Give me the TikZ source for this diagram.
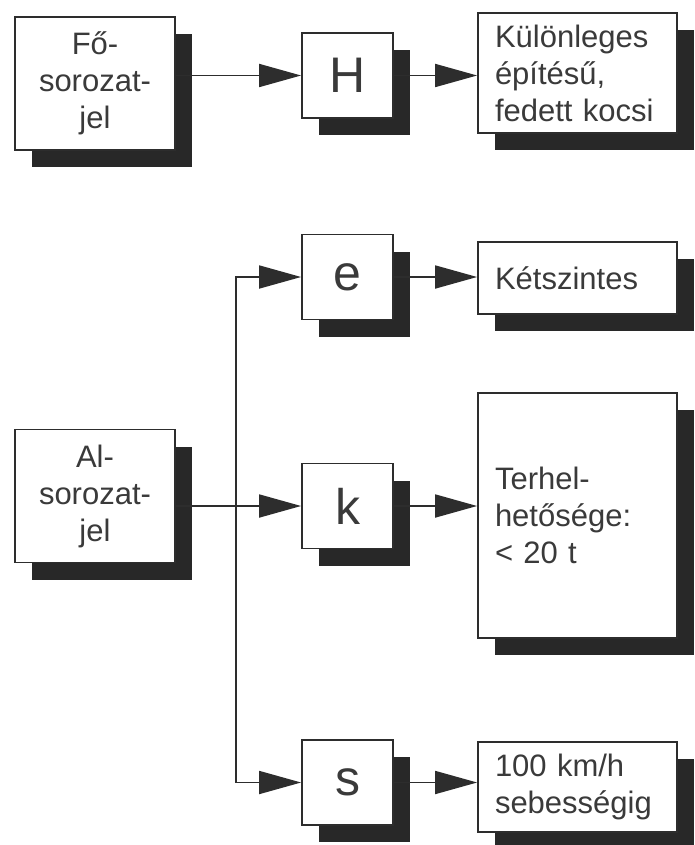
\documentclass[tikz,border=0pt]{standalone}
\usepackage{fontspec}
\setmainfont{Liberation Sans}
\usepackage{tikz}
\usetikzlibrary{arrows.meta,shadows}
\definecolor{linec}{RGB}{45,45,45}
\definecolor{textc}{RGB}{58,58,58}
\definecolor{shadc}{RGB}{40,40,40}
\tikzset{
  sbox/.style={draw=linec,line width=1.8pt,fill=white,text=textc,inner sep=0pt,
    drop shadow={shadow xshift=17pt,shadow yshift=-17pt,fill=shadc,opacity=1}},
  lbox/.style={sbox,minimum width=160pt,minimum height=133pt,align=center,
    font=\fontsize{31}{37}\selectfont},
  cbox/.style={sbox,minimum width=91pt,minimum height=85pt,
    font=\fontsize{50}{56}\selectfont},
  rbox/.style={sbox,minimum width=199pt,inner xsep=17pt,text width=165pt,align=left,
    font=\fontsize{31}{37}\selectfont},
  conn/.style={draw=linec,line width=1.8pt,-{Triangle[length=42pt,width=23pt]}}
}
\begin{document}
\begin{tikzpicture}[x=1pt,y=-1pt]
\useasboundingbox (0,0) rectangle (694,845);
% upper row: main series mark
\node[lbox] (fo) at (95,83.5) {Fő-\\sorozat-\\jel};
\node[cbox] (H) at (347.5,75.5) {H};
\node[rbox,minimum height=120pt] (kul) at (577.5,73) {Különleges\\építésű,\\fedett kocsi};
\draw[conn] (fo.east |- H) -- (H.west);
\draw[conn] (H.east) -- (H.east -| kul.west);
% lower part: sub series marks
\node[lbox] (al) at (95,496) {Al-\\sorozat-\\jel};
\node[cbox] (e) at (347.5,277) {e};
\node[cbox] (k) at (347.5,506) {k};
\node[cbox] (s) at (347.5,782.5) {s};
\node[rbox,minimum height=72pt] (ket) at (577.5,278) {Kétszintes};
\node[rbox,minimum height=245pt] (ter) at (577.5,515.5) {Terhel-\\hetősége:\\< 20 t};
\node[rbox,minimum height=90pt] (km) at (577.5,787) {100 km/h\\sebességig};
\path (k.west) ++(-65,0) coordinate (split);
\draw[conn] (al.east |- k) -- (k.west);
\draw[conn] (split) |- (e.west);
\draw[conn] (split) |- (s.west);
\draw[conn] (e.east) -- (e.east -| ket.west);
\draw[conn] (k.east) -- (k.east -| ter.west);
\draw[conn] (s.east) -- (s.east -| km.west);
\end{tikzpicture}
\end{document}
